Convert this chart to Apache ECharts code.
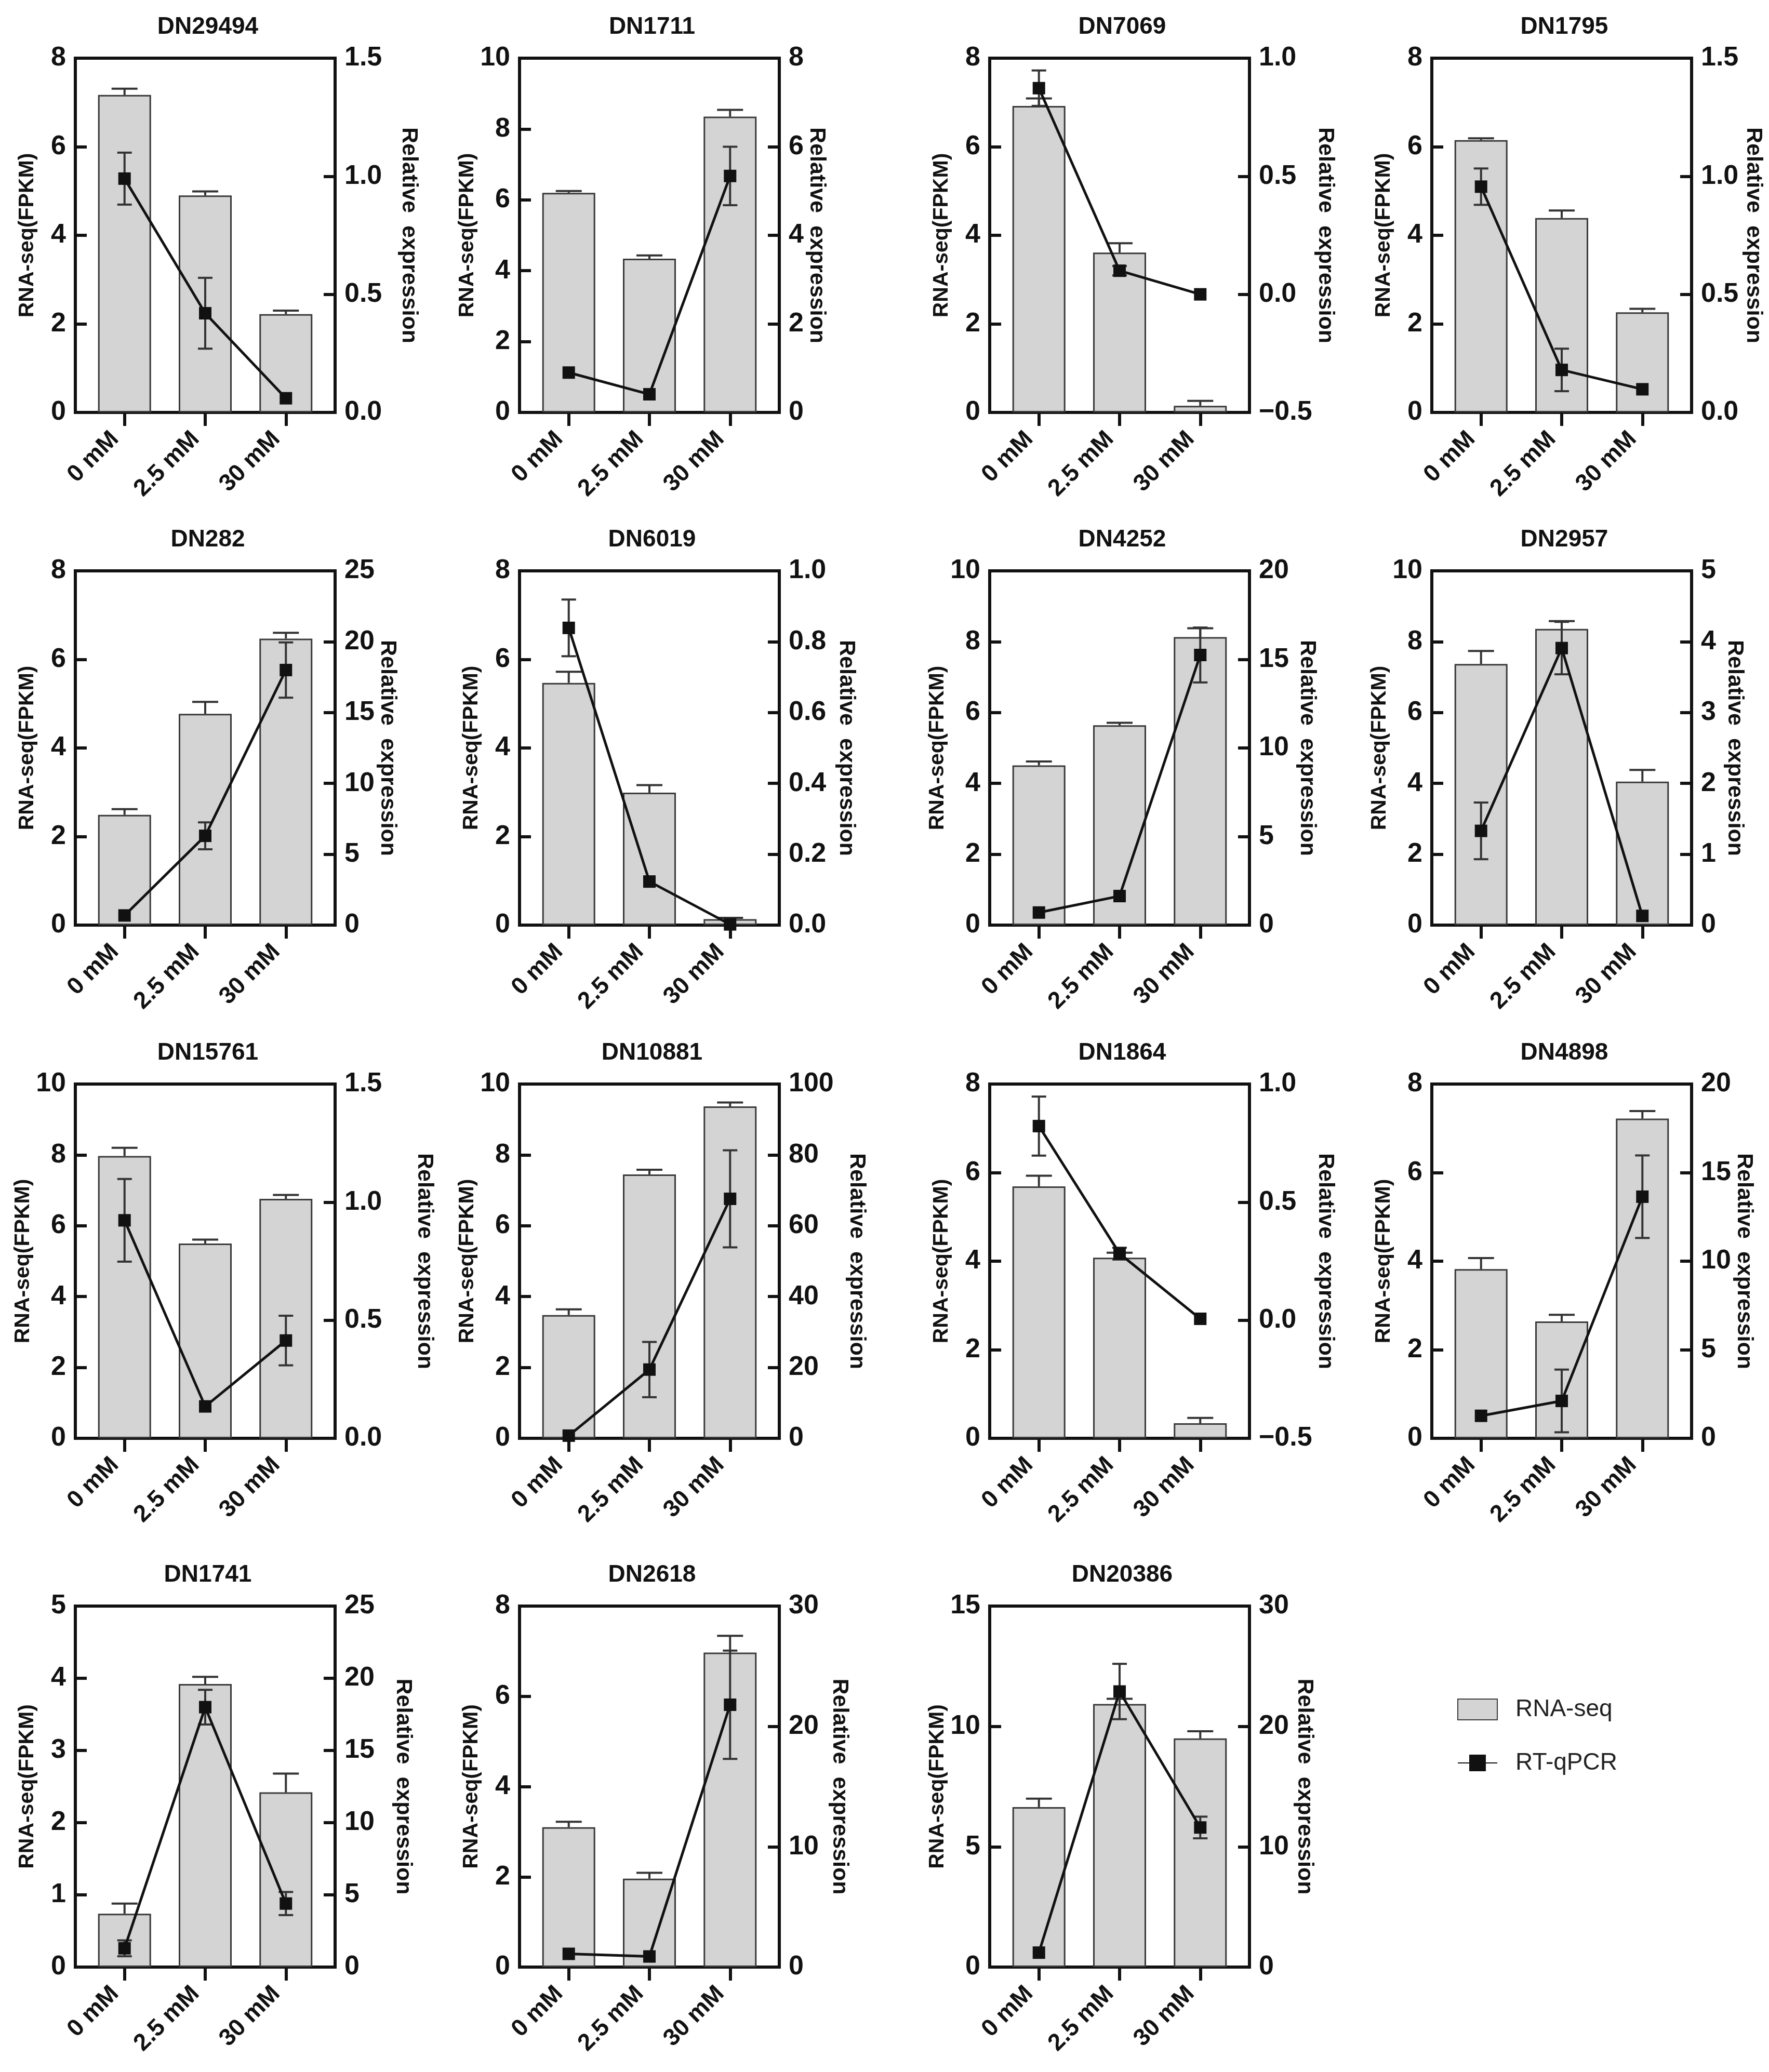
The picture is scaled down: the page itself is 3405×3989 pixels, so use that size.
<!DOCTYPE html>
<html>
<head>
<meta charset="utf-8">
<script src="https://cdn.jsdelivr.net/npm/echarts@6/dist/echarts.min.js"></script>
<style>
  html, body { margin: 0; padding: 0; background: #fff; }
  #main { width: 3405px; height: 3989px; }
</style>
</head>
<body>
<div id="main"></div>
<script>
var genes = ["DN29494", "DN1711", "DN7069", "DN1795",
             "DN282", "DN6019", "DN4252", "DN2957",
             "DN15761", "DN10881", "DN1864", "DN4898",
             "DN1741", "DN2618", "DN20386"];
var categories = ["0 mM", "2.5 mM", "30 mM"];

// RNA-seq (FPKM) bars, mean and upper error
var rnaSeq = [
  [7.17, 4.90, 2.22], [6.20, 4.34, 8.35], [6.92, 3.61, 0.15], [6.15, 4.39, 2.26],
  [2.49, 4.77, 6.47], [5.47, 2.99, 0.135], [4.51, 5.64, 8.13], [7.37, 8.36, 4.05],
  [7.97, 5.50, 6.76], [3.48, 7.45, 9.37], [5.69, 4.08, 0.34], [3.82, 2.64, 7.22],
  [0.74, 3.92, 2.42], [3.10, 1.96, 6.97], [6.65, 10.93, 9.50]
];
var rnaSeqErr = [
  [0.14, 0.09, 0.08], [0.05, 0.09, 0.19], [0.17, 0.21, 0.11], [0.04, 0.17, 0.08],
  [0.13, 0.27, 0.13], [0.25, 0.17, 0.03], [0.11, 0.07, 0.25], [0.37, 0.22, 0.33],
  [0.23, 0.11, 0.11], [0.16, 0.13, 0.11], [0.24, 0.11, 0.12], [0.25, 0.15, 0.17],
  [0.14, 0.10, 0.26], [0.12, 0.13, 0.37], [0.35, 0.22, 0.30]
];

// RT-qPCR relative expression, mean and +/- error
var qpcr = [
  [0.99, 0.42, 0.06], [0.90, 0.41, 5.34], [0.873, 0.10, 0.0], [0.956, 0.18, 0.098],
  [0.68, 6.3, 18.0], [0.839, 0.123, 0.002], [0.71, 1.64, 15.25], [1.33, 3.91, 0.13],
  [0.923, 0.135, 0.414], [0.75, 19.4, 67.6], [0.822, 0.282, 0.006], [1.27, 2.11, 13.64],
  [1.3, 18.0, 4.4], [1.1, 0.88, 21.8], [1.2, 22.9, 11.6]
];
var qpcrErr = [
  [0.11, 0.15, 0], [0, 0, 0.66], [0.075, 0.02, 0], [0.077, 0.09, 0],
  [0, 0.95, 1.95], [0.08, 0, 0], [0, 0, 1.55], [0.40, 0.37, 0],
  [0.175, 0, 0.105], [0, 7.8, 13.7], [0.125, 0.025, 0], [0, 1.77, 2.33],
  [0.55, 1.2, 0.8], [0, 0, 4.5], [0, 2.3, 0.9]
];

// axis ranges
var leftMax = [8, 10, 8, 8, 8, 8, 10, 10, 10, 10, 8, 8, 5, 8, 15];
var leftStep = [2, 2, 2, 2, 2, 2, 2, 2, 2, 2, 2, 2, 1, 2, 5];
var rightMin = [0, 0, -0.5, 0, 0, 0, 0, 0, 0, 0, -0.5, 0, 0, 0, 0];
var rightMax = [1.5, 8, 1.0, 1.5, 25, 1.0, 20, 5, 1.5, 100, 1.0, 20, 25, 30, 30];
var rightStep = [0.5, 2, 0.5, 0.5, 5, 0.2, 5, 1, 0.5, 20, 0.5, 5, 5, 10, 10];
var catPos = [0, 1, 2];

// layout (pixels)
var colLeft = [145, 1000, 1905, 2756];
var rowTop = [112, 1099, 2087, 3092];
var rowHeight = [682, 682, 682, 695];
var plotWidth = 500;
var rightNameGap = [120, 46, 89, 97, 48, 107, 89, 61, 150, 127, 84, 56, 109, 94, 84];

var FONT = "'Liberation Sans', Arial, sans-serif";
var INK = "#111";

function barErr(params, api) {
  var p0 = api.coord([api.value(0), api.value(1)]);
  var p1 = api.coord([api.value(0), api.value(2)]);
  var st = { stroke: "#333", lineWidth: 4 };
  return {
    type: "group",
    children: [
      { type: "line", shape: { x1: p0[0], y1: p0[1], x2: p1[0], y2: p1[1] }, style: st },
      { type: "line", shape: { x1: p1[0] - 25, y1: p1[1], x2: p1[0] + 25, y2: p1[1] }, style: st }
    ]
  };
}

function lineErr(params, api) {
  var lo = api.coord([api.value(0), api.value(1)]);
  var hi = api.coord([api.value(0), api.value(2)]);
  var st = { stroke: "#333", lineWidth: 4 };
  return {
    type: "group",
    children: [
      { type: "line", shape: { x1: lo[0], y1: lo[1], x2: hi[0], y2: hi[1] }, style: st },
      { type: "line", shape: { x1: hi[0] - 14, y1: hi[1], x2: hi[0] + 14, y2: hi[1] }, style: st },
      { type: "line", shape: { x1: lo[0] - 14, y1: lo[1], x2: lo[0] + 14, y2: lo[1] }, style: st }
    ]
  };
}

var option = {
  backgroundColor: "#fff",
  animation: false,
  title: [],
  grid: [],
  xAxis: [],
  yAxis: [],
  series: [],
  legend: {
    orient: "vertical",
    left: 2800,
    top: 3263,
    itemWidth: 76,
    itemHeight: 40,
    itemGap: 57,
    textStyle: { fontSize: 46, color: "#222", fontFamily: FONT, padding: [0, 0, 0, 30] },
    data: [{ name: "RNA-seq", icon: "rect" }, "RT-qPCR"]
  }
};

genes.forEach(function (gene, i) {
  var col = i % 4, row = Math.floor(i / 4);
  var left = colLeft[col], top = rowTop[row], h = rowHeight[row];
  var dec = rightStep[i] < 1 ? 1 : 0;

  option.title.push({
    text: gene,
    left: left + plotWidth / 2,
    top: top - 88,
    textAlign: "center",
    textStyle: { fontSize: 46, fontWeight: "bold", color: INK, fontFamily: FONT }
  });

  option.grid.push({
    left: left, top: top, width: plotWidth, height: h,
    show: true, borderColor: INK, borderWidth: 6, backgroundColor: "transparent"
  });

  option.xAxis.push({
    type: "value",
    gridIndex: i,
    min: -0.61, max: 2.61,
    splitLine: { show: false },
    axisLine: { onZero: false, lineStyle: { color: INK, width: 6 } },
    axisTick: { customValues: catPos, length: 26, lineStyle: { color: INK, width: 6 } },
    axisLabel: {
      customValues: catPos, rotate: 45, margin: 26, padding: [0, 26, 0, 0],
      fontSize: 46, fontWeight: "bold", color: INK, fontFamily: FONT,
      formatter: function (v) { return categories[Math.round(v)]; }
    }
  });

  option.yAxis.push({
    type: "value",
    gridIndex: i,
    position: "left",
    min: 0, max: leftMax[i], interval: leftStep[i],
    name: "RNA-seq(FPKM)",
    nameLocation: "middle",
    nameGap: 72,
    nameTextStyle: { fontSize: 41, fontWeight: "bold", color: INK, fontFamily: FONT },
    splitLine: { show: false },
    axisLine: { show: true, onZero: false, lineStyle: { color: INK, width: 6 } },
    axisTick: { show: true, inside: true, length: 22, lineStyle: { color: INK, width: 6 } },
    axisLabel: { margin: 18, fontSize: 52, fontWeight: "bold", color: INK, fontFamily: FONT }
  });

  option.yAxis.push({
    type: "value",
    gridIndex: i,
    position: "right",
    min: rightMin[i], max: rightMax[i], interval: rightStep[i],
    name: "Relative  expression",
    nameLocation: "middle",
    nameRotate: -90,
    nameGap: rightNameGap[i],
    nameTextStyle: { fontSize: 43, fontWeight: "bold", color: INK, fontFamily: FONT },
    splitLine: { show: false },
    axisLine: { show: true, onZero: false, lineStyle: { color: INK, width: 6 } },
    axisTick: { show: true, inside: true, length: 22, lineStyle: { color: INK, width: 6 } },
    axisLabel: {
      margin: 18, fontSize: 52, fontWeight: "bold", color: INK, fontFamily: FONT,
      formatter: function (v) { return v.toFixed(dec).replace("-", "\u2212"); }
    }
  });

  option.series.push({
    type: "bar",
    name: "RNA-seq",
    xAxisIndex: i, yAxisIndex: 2 * i,
    data: rnaSeq[i].map(function (v, k) { return [catPos[k], v]; }),
    barWidth: 102,
    itemStyle: { color: "#d4d4d4", borderColor: "#3a3a3a", borderWidth: 3 },
    z: 2
  });

  option.series.push({
    type: "custom",
    xAxisIndex: i, yAxisIndex: 2 * i,
    renderItem: barErr,
    data: rnaSeq[i].map(function (v, k) { return [catPos[k], v, v + rnaSeqErr[i][k]]; }),
    z: 3
  });

  option.series.push({
    type: "custom",
    xAxisIndex: i, yAxisIndex: 2 * i + 1,
    renderItem: lineErr,
    data: qpcr[i].map(function (v, k) { return [catPos[k], v - qpcrErr[i][k], v + qpcrErr[i][k]]; })
      .filter(function (d) { return d[2] - d[1] > 0; }),
    z: 4
  });

  option.series.push({
    type: "line",
    name: "RT-qPCR",
    xAxisIndex: i, yAxisIndex: 2 * i + 1,
    data: qpcr[i].map(function (v, k) { return [catPos[k], v]; }),
    symbol: "rect",
    symbolSize: 24,
    lineStyle: { color: INK, width: 5 },
    itemStyle: { color: INK },
    clip: false,
    z: 5
  });
});

var chart = echarts.init(document.getElementById("main"), null, { renderer: "canvas" });
chart.setOption(option);
</script>
</body>
</html>
